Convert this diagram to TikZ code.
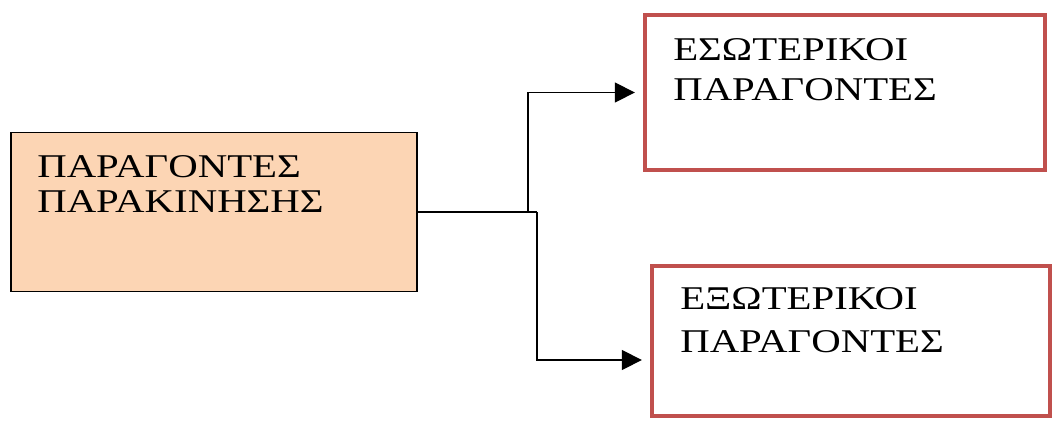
\documentclass[tikz,border=0pt]{standalone}
\usepackage{fontspec}
\setmainfont{Liberation Serif}[FakeStretch=1.23]
\usetikzlibrary{arrows.meta,positioning}
\definecolor{peach}{HTML}{FCD5B4}
\definecolor{boxred}{HTML}{C0504D}
\tikzset{
  srcbox/.style={draw=black, fill=peach, line width=1pt, inner sep=0pt},
  outbox/.style={draw=boxred, line width=3pt, inner sep=0pt},
  lbl/.style={anchor=north west, inner sep=0pt, align=left},
  link/.style={line width=1pt, shorten >=0.2cm, -{Triangle[length=0.5cm,width=0.5cm]}}
}
\begin{document}
\begin{tikzpicture}[x=0.025cm, y=-0.025cm]
\useasboundingbox (0,0) rectangle (1055,422);
% boxes
\node[srcbox, minimum width=10.15cm, minimum height=3.975cm] (src) at (214,212) {};
\node[outbox, minimum width=10cm, minimum height=3.875cm] (inr) at (845,92.5) {};
\node[outbox, minimum width=9.95cm, minimum height=3.75cm] (ext) at (851,341) {};
% texts
\node[lbl, font=\fontsize{23.6}{25}\selectfont] (srct) at (37,155) {ΠΑΡΑΓΟΝΤΕΣ\\ΠΑΡΑΚΙΝΗΣΗΣ};
\node[lbl, font=\fontsize{23.6}{28.5}\selectfont] (inrt) at (673,38) {ΕΣΩΤΕΡΙΚΟΙ\\ΠΑΡΑΓΟΝΤΕΣ};
\node[lbl, font=\fontsize{23.6}{30.6}\selectfont] (extt) at (680,287) {ΕΞΩΤΕΡΙΚΟΙ\\ΠΑΡΑΓΟΝΤΕΣ};
% connectors
\coordinate (j1) at (528,212);
\coordinate (j2) at (537,212);
\coordinate (lvl) at (0,360);
\draw[line width=1pt] (src.east) -- (j2);
\draw[link] (j1) |- (inr.west);
\draw[link] (j2) |- (ext.west |- lvl);
\end{tikzpicture}
\end{document}
